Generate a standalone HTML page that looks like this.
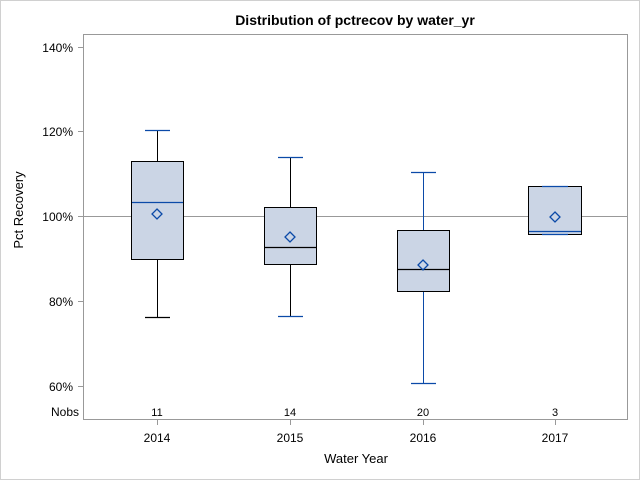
<!DOCTYPE html>
<html><head><style>body{margin:0;background:#fff}svg{display:block}</style></head><body>
<svg width="640" height="480" xmlns="http://www.w3.org/2000/svg" font-family="Liberation Sans, Arial, sans-serif">
<rect x="0.5" y="0.5" width="639" height="479" fill="#fff" stroke="#d0d0d0"/>
<text x="355" y="25" text-anchor="middle" font-size="14" font-weight="bold">Distribution of pctrecov by water_yr</text>
<rect x="83.5" y="34.5" width="544" height="385" fill="none" stroke="#999"/>
<line x1="84" y1="216.5" x2="627" y2="216.5" stroke="#999"/>
<g stroke="#999"><line x1="78" y1="47.5" x2="83" y2="47.5"/><line x1="78" y1="131.5" x2="83" y2="131.5"/><line x1="78" y1="216.5" x2="83" y2="216.5"/><line x1="78" y1="301.5" x2="83" y2="301.5"/><line x1="78" y1="386.5" x2="83" y2="386.5"/>
<line x1="157.5" y1="420" x2="157.5" y2="425"/><line x1="290.5" y1="420" x2="290.5" y2="425"/><line x1="423.5" y1="420" x2="423.5" y2="425"/><line x1="555.5" y1="420" x2="555.5" y2="425"/></g>
<g font-size="12" text-anchor="end" fill="#000"><text x="73" y="52">140%</text><text x="73" y="136">120%</text><text x="73" y="221">100%</text><text x="73" y="306">80%</text><text x="73" y="391">60%</text><text x="79" y="416">Nobs</text></g>
<g font-size="11" text-anchor="middle"><text x="157" y="416">11</text><text x="290" y="416">14</text><text x="423" y="416">20</text><text x="555" y="416">3</text></g>
<g font-size="12" text-anchor="middle"><text x="157" y="442">2014</text><text x="290" y="442">2015</text><text x="423" y="442">2016</text><text x="555" y="442">2017</text>
<text x="356" y="463" font-size="13">Water Year</text>
<text transform="translate(23,210) rotate(-90)" font-size="13">Pct Recovery</text></g>
<line x1="157.5" y1="130" x2="157.5" y2="161" stroke="#000"/><line x1="157.5" y1="259" x2="157.5" y2="317" stroke="#000"/>
<line x1="290.5" y1="157" x2="290.5" y2="207" stroke="#000"/><line x1="290.5" y1="264" x2="290.5" y2="316" stroke="#000"/>
<line x1="423.5" y1="172" x2="423.5" y2="230" stroke="#0b4aa8"/><line x1="423.5" y1="291" x2="423.5" y2="383" stroke="#0b4aa8"/>
<g fill="#cbd5e5" stroke="#000">
<rect x="131.5" y="161.5" width="52" height="98"/>
<rect x="264.5" y="207.5" width="52" height="57"/>
<rect x="397.5" y="230.5" width="52" height="61"/>
<rect x="528.5" y="186.5" width="53" height="48"/>
</g>
<g stroke="#0b4aa8" fill="none" stroke-width="1.3">
<line x1="145" y1="130.5" x2="170" y2="130.5"/><line x1="145" y1="317.5" x2="170" y2="317.5" stroke="#000"/>
<line x1="132" y1="202.5" x2="183" y2="202.5"/>
<line x1="278" y1="157.5" x2="303" y2="157.5"/><line x1="278" y1="316.5" x2="303" y2="316.5"/>
<line x1="265" y1="247.5" x2="316" y2="247.5" stroke="#000"/>
<line x1="411" y1="172.5" x2="436" y2="172.5"/><line x1="411" y1="383.5" x2="436" y2="383.5"/>
<line x1="398" y1="269.5" x2="449" y2="269.5" stroke="#000"/>
<line x1="542" y1="186.5" x2="568" y2="186.5"/><line x1="542" y1="234.5" x2="568" y2="234.5"/>
<line x1="529" y1="231.5" x2="581" y2="231.5"/>
<path d="M157 209l5 5-5 5-5-5z"/><path d="M290 232l5 5-5 5-5-5z"/><path d="M423 260l5 5-5 5-5-5z"/><path d="M555 212l5 5-5 5-5-5z"/>
</g>
</svg>
</body></html>
